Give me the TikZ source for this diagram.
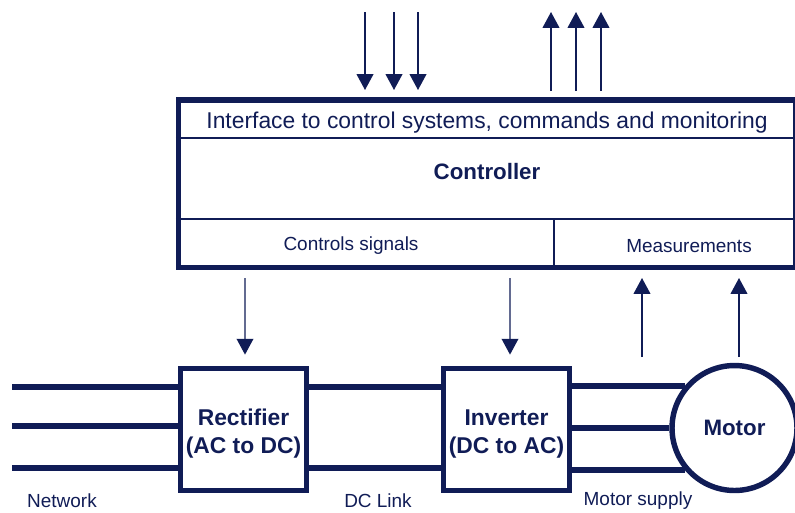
\documentclass[tikz,border=0pt]{standalone}
\usepackage{fontspec}
\setmainfont{Liberation Sans}
\usetikzlibrary{arrows.meta,positioning,calc}
\definecolor{navy}{RGB}{16,28,86}

\begin{document}
\begin{tikzpicture}[x=0.02cm,y=-0.02cm,
  conv/.style={draw=navy,line width=3.3pt,minimum width=2.52cm,minimum height=2.44cm,inner sep=0pt,font=\bfseries\fontsize{13}{15.5}\selectfont,text=navy,align=center},
  bus/.style={navy,line width=3.6pt},
  sig/.style={-{Triangle[length=9pt,width=9.5pt]},navy,line width=0.8pt},
  thin/.style={navy,line width=0.8pt},
  lbl/.style={font=\fontsize{10.8}{13}\selectfont,text=navy}]
 \useasboundingbox (0,0) rectangle (795,512);
 % controller
 \node[draw=navy,line width=3.2pt,minimum width=12.35cm,minimum height=3.35cm,inner sep=0pt] (ctrl) at (487.25,183.75) {};
 \node[font=\fontsize{13}{15}\selectfont,text=navy] (iface) at (487,123) {Interface to control systems, commands and monitoring};
 \node[font=\bfseries\fontsize{12.7}{15}\selectfont,text=navy] (cont) at (487,172) {Controller};
 \node[lbl] (sigs) at (351,246) {Controls signals};
 \node[lbl] (meas) at (689,246) {Measurements};
 \draw[thin] (ctrl.west |- 0,138) -- (ctrl.east |- 0,138);
 \draw[thin] (ctrl.west |- 0,219) -- (ctrl.east |- 0,219);
 \coordinate (dv) at (554,219);
 \draw[thin] (dv) -- (dv |- ctrl.south);
 % power path
 \node[conv] (rect) at (243.5,429.5) {\rule{0pt}{14pt}Rectifier\\(AC to DC)};
 \node[conv] (inv) at (506.5,429.5) {\rule{0pt}{14pt}Inverter\\(DC to AC)};
 \node[circle,draw=navy,line width=3.1pt,minimum size=2.5cm,inner sep=0pt,font=\bfseries\fontsize{12.7}{15}\selectfont,text=navy] (motor) at (734.5,428) {Motor};
 \foreach \y in {387,426,468} {
   \coordinate (n\y) at (12,\y);
   \draw[bus] (n\y) -- (rect.west |- n\y);
 }
 \draw[bus] (rect.east |- n387) -- (inv.west |- n387);
 \draw[bus] (rect.east |- n468) -- (inv.west |- n468);
 \draw[bus] (inv.east |- motor.140) -- (motor.140);
 \draw[bus] (inv.east |- motor.west) -- (motor.west);
 \draw[bus] (inv.east |- motor.220) -- (motor.220);
 \node[lbl] (net) at (62,501) {Network};
 \node[lbl] (dcl) at (378,501) {DC Link};
 \node[lbl] (msup) at (638,501) {Motor supply};
 % signals
 \foreach \x in {365,394,418} {
   \coordinate (in\x) at (\x,12);
   \draw[sig] (in\x) -- (\x,90);
 }
 \foreach \x in {551,576,601} {
   \coordinate (out\x) at (\x,12);
   \draw[sig] (\x,91) -- (out\x);
 }
 \draw[sig] (245,278) -- ($(rect.north)+(1.5,-11)$);
 \draw[sig] (510,278) -- ($(inv.north)+(3.5,-11)$);
 \coordinate (m1) at (642,357);
 \coordinate (m2) at (739,357);
 \draw[sig] (m1) -- (642,278);
 \draw[sig] (m2) -- (739,278);
\end{tikzpicture}
\end{document}
